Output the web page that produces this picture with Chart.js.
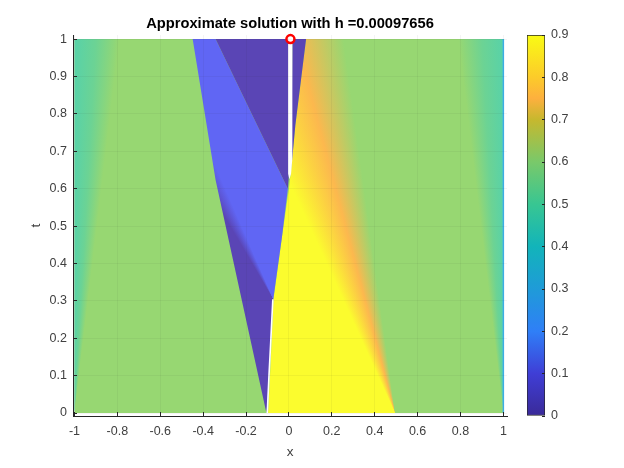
<!DOCTYPE html>
<html><head><meta charset="utf-8">
<script src="https://cdn.jsdelivr.net/npm/chart.js@4"></script>
<style>html,body{margin:0;padding:0;background:#fff;width:624px;height:468px;overflow:hidden}
canvas{position:absolute;left:0;top:0}</style></head>
<body><canvas id="main" width="624" height="468"></canvas><canvas id="bar" width="624" height="468"></canvas>
<script>
// Colorbar colours, bottom to top
const cbTicks=[0,0.1,0.2,0.3,0.4,0.5,0.6,0.7,0.8,0.9];
const cbStops=[0,0.1,0.2,0.3,0.4,0.5,0.6,0.7,0.75,0.8,0.9];
const cbColors=['#3a2a98','#3f3ed6','#2f7ff7','#1f9bd8','#12b4ba','#38c692','#79c96a','#c6b82e','#fdb03e','#fccb2a','#f9fb14'];
// Ticks
const xTicks=[-1,-0.8,-0.6,-0.4,-0.2,0,0.2,0.4,0.6,0.8,1];
const tTicks=[0,0.1,0.2,0.3,0.4,0.5,0.6,0.7,0.8,0.9,1];
// Region outlines as [x,t]
const domain=[[-1,0],[1,0],[1,1],[-1,1]];
const leftFan=[[-1,0],[-0.79,1],[-1,1]];
const rightFan=[[1,0],[0.79,1],[1,1]];
const wedge=[[-0.105,0],[-0.342,0.623],[-0.449,1],[-0.342,1],[-0.005,0.6],[-0.032,0.473],[-0.073,0.304],[-0.083,0.2],[-0.092,0.1],[-0.103,0.01]];
const darkUpper=[[-0.342,1],[0,1],[0,0.64],[-0.005,0.6]];
const darkRight=[[0.016,1],[0.08,1],[0.03,0.77],[0.012,0.66]];
const brightArea=[[-0.097,0],[0.495,0],[0.255,1],[0.08,1],[0.03,0.77],[0.012,0.66],[0.003,0.615],[0,0.6],[-0.032,0.473],[-0.072,0.304],[-0.08,0.2],[-0.088,0.1]];
const whiteStrip=[[-0.004,1],[0.016,1],[0.016,0.68],[0.01,0.64],[0.002,0.625],[-0.004,0.64]];
const gapLine=[[-0.101,0],[-0.093,0.1],[-0.084,0.2],[-0.075,0.304]];
const edgeRight=[[1,0],[1,1]];
const startPoint=[[0.007,1]];
// Region colours
const green='#97d772',dark='#5a45b5',blue='#6066f4',yellow='#fbfc2e',teal='#58d2a8',orange='#fcb84e';
const pts=a=>a.map(p=>({x:p[0],y:p[1]}));
// Angular gradient around a fan's apex, stops at the directions of listed rays
function fan(chart,apex,rays,cols){
  const sx=chart.scales.x,sy=chart.scales.y;
  const ax=sx.getPixelForValue(apex[0]),ay=sy.getPixelForValue(apex[1]);
  if(!isFinite(ax)||!isFinite(ay))return cols[0];
  const angs=rays.map(r=>Math.atan2(sy.getPixelForValue(r[1])-ay,sx.getPixelForValue(r[0])-ax)).map(a=>a<0?a+2*Math.PI:a);
  const lo=Math.min(...angs),lead=2.6;
  const g=chart.ctx.createConicGradient(lo-lead,ax,ay);
  const span=2*Math.PI;
  angs.forEach((a,i)=>g.addColorStop((a-lo+lead)/span,cols[i]));
  return g;
}
const poly=(data,bg,order)=>({type:'scatter',data:pts(data),showLine:true,fill:'shape',pointRadius:0,borderWidth:0,borderColor:'transparent',backgroundColor:bg,tension:0,order});
const tickFont={family:'"Liberation Sans"',size:12.5};
const ink='#404040';
new Chart(document.getElementById('main'),{
 type:'scatter',
 data:{datasets:[
  poly(domain,green,9),
  poly(leftFan,c=>fan(c.chart,[-1,0],[[-1,1],[-0.9,1],[-0.79,1]],[teal,'#6cd394',green]),8),
  poly(rightFan,c=>fan(c.chart,[1,0],[[0.79,1],[0.9,1],[1,1]],[green,'#6cd394',teal]),8),
  poly(brightArea,c=>fan(c.chart,[0.495,0],[[0.255,1],[0.033,1],[-0.305,1]],[green,orange,yellow]),6),
  poly(wedge,c=>fan(c.chart,[-0.073,0.304],[[-0.283,0.508],[-0.227,0.508]],[dark,blue]),5),
  poly(darkUpper,dark,4),
  poly(darkRight,dark,4),
  poly(whiteStrip,'#ffffff',3),
  {type:'scatter',data:pts(gapLine),showLine:true,borderColor:'#ffffff',borderWidth:1.6,pointRadius:0,order:3},
  {type:'scatter',data:pts(edgeRight),showLine:true,borderColor:'#3fb4ee',borderWidth:1.5,pointRadius:0,order:3},
  {type:'scatter',data:pts(startPoint),showLine:false,pointRadius:4,pointBorderWidth:2.5,pointBackgroundColor:'#ffffff',pointBorderColor:'#ff0000',clip:false,order:1}
 ]},
 options:{
  responsive:false,animation:false,devicePixelRatio:1,
  layout:{padding:{left:0,right:117,top:0,bottom:0}},
  plugins:{legend:{display:false},tooltip:{enabled:false},
   title:{display:true,fullSize:false,text:'Approximate solution with h =0.00097656',color:'#000',font:{family:'"Liberation Sans"',size:14.7,weight:'bold',lineHeight:1},padding:{top:16.5,bottom:3.8},align:'center'}},
  scales:{
   x:{type:'linear',min:-1.007,max:1.017,afterBuildTicks:s=>{s.ticks=xTicks.map(v=>({value:v}))},afterFit:s=>{s.height=52},
    border:{color:'#262626',width:1,z:2},
    grid:{z:1,color:'rgba(40,40,40,0.05)',tickColor:'#262626',tickLength:-4,tickWidth:1,lineWidth:1},
    ticks:{color:ink,font:tickFont,padding:12,maxRotation:0,autoSkip:false,callback:v=>String(v)},
    title:{display:true,text:'x',color:ink,font:{family:'"Liberation Sans"',size:13.5},padding:{top:4,bottom:8}}},
   y:{type:'linear',min:-0.008,max:1.011,afterBuildTicks:s=>{s.ticks=tTicks.map(v=>({value:v}))},afterFit:s=>{s.width=73},
    border:{color:'#262626',width:1,z:2},
    grid:{z:1,color:'rgba(40,40,40,0.05)',tickColor:'#262626',tickLength:-4,tickWidth:1,lineWidth:1},
    ticks:{color:ink,font:tickFont,padding:10,autoSkip:false,callback:v=>String(v)},
    title:{display:true,text:'t',color:ink,font:{family:'"Liberation Sans"',size:13.5},padding:{top:28,bottom:0}}}
  }
 }
});
new Chart(document.getElementById('bar'),{
 type:'bar',
 data:{labels:['c'],datasets:[{data:[[0,0.9]],barPercentage:1,categoryPercentage:1,borderWidth:1,borderColor:'#262626',borderSkipped:false,
  backgroundColor:c=>{const s=c.chart.scales.y;const a=s.getPixelForValue(0),b=s.getPixelForValue(0.9);
   if(!isFinite(a)||!isFinite(b))return cbColors[0];
   const g=c.chart.ctx.createLinearGradient(0,a,0,b);
   cbStops.forEach((v,i)=>g.addColorStop(v/0.9,cbColors[i]));return g;}}]},
 options:{responsive:false,animation:false,devicePixelRatio:1,
  layout:{padding:{left:527,right:0,top:35,bottom:52}},
  plugins:{legend:{display:false},tooltip:{enabled:false}},
  scales:{x:{display:false},
   y:{position:'right',min:0,max:0.9,afterBuildTicks:s=>{s.ticks=cbTicks.map(v=>({value:v}))},afterFit:s=>{s.width=79},
    border:{display:false},grid:{drawOnChartArea:false,z:1,tickColor:'#262626',tickLength:-3},
    ticks:{color:ink,font:tickFont,padding:9,autoSkip:false,callback:v=>String(v)}}}
 }
});
</script></body></html>
